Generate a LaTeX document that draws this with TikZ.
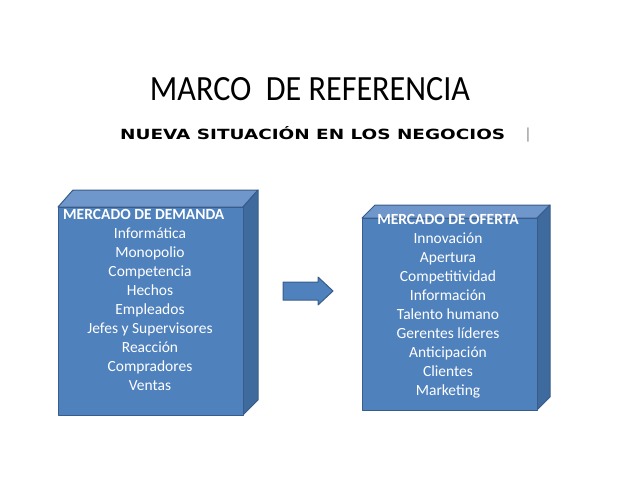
\documentclass[tikz,border=0pt]{standalone}
\usepackage{fontspec}
\setmainfont{Carlito}
\newfontfamily\subfont{DejaVu Sans}
\definecolor{front}{HTML}{4F81BD}
\definecolor{topc}{HTML}{7097CB}
\definecolor{sidec}{HTML}{3E6A9E}
\definecolor{edge}{HTML}{385D8A}
\begin{document}
\begin{tikzpicture}[x=1pt,y=-1pt,
  face/.style={draw=edge,line width=1pt,line join=round},
  txt/.style={text=white,font=\fontsize{15.5}{18}\selectfont,inner sep=0pt,anchor=base},
  hd/.style={txt,font=\fontsize{15.5}{18}\selectfont\bfseries}]
\useasboundingbox (0,0) rectangle (638,479);
% title
\node[anchor=base,inner sep=0pt] (title) at (310,100) {\resizebox{320pt}{23pt}{MARCO\ \ DE REFERENCIA}};
\node[anchor=base west,inner sep=0pt] (sub) at (120,139) {\resizebox{385pt}{13pt}{\subfont\bfseries NUEVA SITUACIÓN EN LOS NEGOCIOS}};
\node[font=\fontsize{16}{18}\selectfont,text=gray,anchor=base,inner sep=0pt] (bar) at (528,139) {|};
% left box
\fill[face,fill=topc] (58,207) -- (73,190) -- (258,190) -- (243,207) -- cycle;
\fill[face,fill=sidec] (243,207) -- (258,190) -- (258,400) -- (243,415) -- cycle;
\fill[face,fill=front] (58,207) rectangle (243,415);
\node[hd,anchor=base west] (lh) at (63,219) {MERCADO DE DEMANDA};
\foreach \t [count=\i] in {Informática,Monopolio,Competencia,Hechos,Empleados,Jefes y Supervisores,Reacción,Compradores,Ventas}
  \node[txt] (l\i) at (150,219+19*\i) {\t};
% right box
\fill[face,fill=topc] (362,218) -- (375,205) -- (550,205) -- (537,218) -- cycle;
\fill[face,fill=sidec] (537,218) -- (550,205) -- (550,397) -- (537,410) -- cycle;
\fill[face,fill=front] (362,218) rectangle (537,410);
\node[hd] (rh) at (448,224) {MERCADO DE OFERTA};
\foreach \t [count=\i] in {Innovación,Apertura,Competitividad,Información,Talento humano,Gerentes líderes,Anticipación,Clientes,Marketing}
  \node[txt] (r\i) at (448,224+19*\i) {\t};
% arrow
\fill[face,fill=front] (283,282) -- (318,282) -- (318,277) -- (333,291) -- (318,305) -- (318,300) -- (283,300) -- cycle;
\end{tikzpicture}
\end{document}
